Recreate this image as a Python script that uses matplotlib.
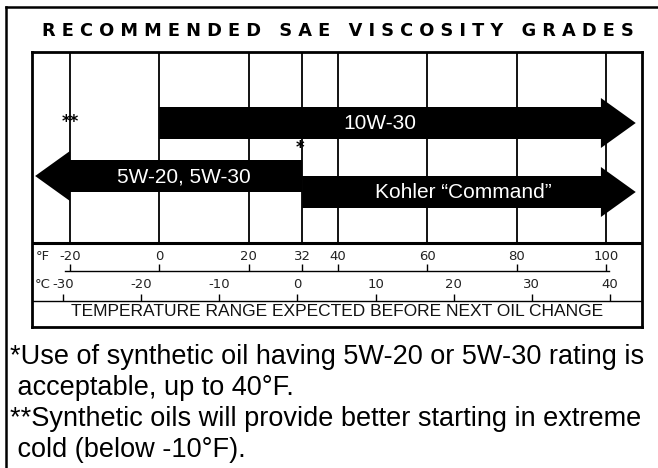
import matplotlib
matplotlib.use("Agg")
import matplotlib.pyplot as plt
from matplotlib.patches import FancyArrow
from matplotlib.lines import Line2D

# scale values
f_ticks = [-20, 0, 20, 32, 40, 60, 80, 100]
c_ticks = [-30, -20, -10, 0, 10, 20, 30, 40]

# oil grades: start temp (F) -> arrow tip temp (F)
grades = ["10W-30", "5W-20, 5W-30", "Kohler \u201cCommand\u201d"]
grade_start = [0, 32, 32]
grade_end = [106.7, -27.8, 106.7]
grade_row = [123, 176, 192]      # vertical position in box (px from top)
label_x = [49.5, 5.5, 68]         # label centre in F

notes = [
    "*Use of synthetic oil having 5W-20 or 5W-30 rating is",
    " acceptable, up to 40\u00b0F.",
    "**Synthetic oils will provide better starting in extreme",
    " cold (below -10\u00b0F).",
]

W, H = 658, 468
fig = plt.figure(figsize=(W / 100, H / 100), dpi=100)

# chart box
ax = fig.add_axes([32 / W, (H - 327) / H, 610 / W, 275 / H])
ax.set_xlim(-28.5, 108.1)
ax.set_ylim(327, 52)
ax.set_xticks([])
ax.set_yticks([])
for s in ax.spines.values():
    s.set_linewidth(2)
    s.set_color("black")

# celsius scale on its own x axis
axc = ax.twiny()
axc.set_xlim(-33.97, 44.1)
axc.set_xticks([])
axc.axis("off")

# vertical grid lines at fahrenheit values
ax.vlines(f_ticks, 52, 243, color="black", lw=1.3)
ax.axhline(243, color="black", lw=2.2)

# fahrenheit row
lab = dict(fontsize=9.5, color="#222222", ha="center", va="center",
           family=["Liberation Sans Narrow", "DejaVu Sans"])
ax.plot([-21, 100.8], [271, 271], color="black", lw=1)
ax.vlines(f_ticks, 264, 271, color="black", lw=1)
for f in f_ticks:
    ax.text(f, 257, str(f), **lab)
ax.text(-26, 257, "\u00b0F", **lab)

# celsius row
ax.axhline(301, color="black", lw=1)
axc.vlines(c_ticks, 294, 301, color="black", lw=1)
for c in c_ticks:
    axc.text(c, 285, str(c), **lab)
axc.text(-31.6, 285, "\u00b0C", **{**lab, "ha": "right"})

ax.text(-28.5 + (337 - 32) / 4.467, 312, "TEMPERATURE RANGE EXPECTED BEFORE NEXT OIL CHANGE",
        fontsize=12.5, ha="center", va="center", color="#111111",
        family=["Liberation Sans Narrow", "Liberation Sans"])

# arrows
for name, s, e, y, lx in zip(grades, grade_start, grade_end, grade_row, label_x):
    ax.add_patch(FancyArrow(s, y, e - s, 0, width=32, head_width=50,
                            head_length=7.8, length_includes_head=True,
                            color="black", lw=0))
    ax.text(lx, y + 1, name, color="white", fontsize=15, ha="center",
            va="center", family="Liberation Sans")

ax.text(-20, 122, "**", fontsize=12, ha="center", va="center", fontweight="bold")
ax.text(31.5, 148, "*", fontsize=12, ha="center", va="center", fontweight="bold")

# title
fig.text(338 / W, 1 - 31 / H,
         "R E C O M M E N D E D   S A E   V I S C O S I T Y   G R A D E S",
         fontsize=12.8, fontweight="heavy", ha="center", va="center",
         family="DejaVu Sans")

# outer frame
fig.add_artist(Line2D([6 / W, 6 / W], [0, 1 - 7 / H], color="black", lw=1.8))
fig.add_artist(Line2D([6 / W, 1], [1 - 7 / H, 1 - 7 / H], color="black", lw=1.8))

# footnotes
for i, t in enumerate(notes):
    fig.text(10 / W, 1 - (357 + i * 31) / H, t, fontsize=19.5, ha="left",
             va="center", family="Liberation Sans")

fig.savefig("out.png", dpi=100)
